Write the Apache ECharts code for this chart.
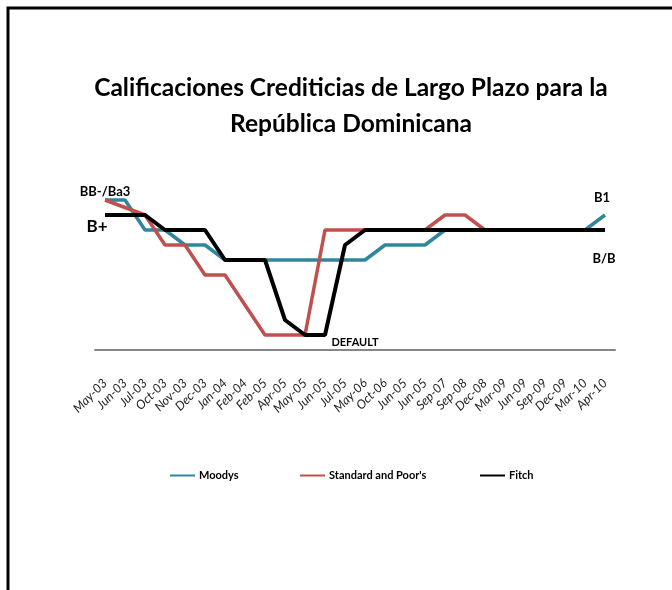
<!DOCTYPE html>
<html>
<head>
<meta charset="utf-8">
<script src="https://cdn.jsdelivr.net/npm/echarts@6/dist/echarts.min.js"></script>
<style>
html,body{margin:0;padding:0;background:#fff;}
#chart{width:672px;height:590px;}
</style>
</head>
<body>
<div id="chart"></div>
<script>
var categories = ['May-03','Jun-03','Jul-03','Oct-03','Nov-03','Dec-03','Jan-04','Feb-04','Feb-05','Apr-05','May-05','Jun-05','Jul-05','May-06','Oct-06','Jun-05','Jun-05','Sep-07','Sep-08','Dec-08','Mar-09','Jun-09','Sep-09','Dec-09','Mar-10','Apr-10'];
var moodys = [10,10,8,8,7,7,6,6,6,6,6,6,6,6,7,7,7,8,8,8,8,8,8,8,8,9];
var standardPoors = [10,9.5,9,7,7,5,5,3,1,1,1,8,8,8,8,8,8,9,9,8,8,8,8,8,8,8];
var fitch = [9,9,9,8,8,8,6,6,6,2,1,1,7,8,8,8,8,8,8,8,8,8,8,8,8,8];
var seriesNames = ['Moodys','Standard and Poor\'s','Fitch'];
var titleText = 'Calificaciones Crediticias de Largo Plazo para la\nRepública Dominicana';

var FONT = 'Lato, "Open Sans", sans-serif';
var legendLefts = [165, 295, 475];
var legends = seriesNames.map(function(n, i){
  return {
    left:legendLefts[i], top:465, itemGap:0, itemWidth:25, itemHeight:2, icon:'rect',
    textStyle:{fontFamily:FONT,fontSize:11,fontWeight:'bold',color:'#000',padding:[0,0,0,-1]},
    data:[n]
  };
});
var chart = echarts.init(document.getElementById('chart'), null, {renderer:'canvas'});
chart.setOption({
  animation:false,
  backgroundColor:'#fff',
  title:{
    text:titleText,
    left:346, top:65, textAlign:'center',
    textStyle:{fontFamily:FONT,fontSize:24.5,fontWeight:'bold',color:'#000',lineHeight:36}
  },
  legend:legends,
  grid:{left:95,right:57,top:185,bottom:240,containLabel:false},
  xAxis:{
    type:'category', data:categories, boundaryGap:true,
    axisLine:{lineStyle:{color:'#868686',width:2}},
    axisTick:{show:false},
    axisLabel:{rotate:45,margin:31,interval:0,fontFamily:FONT,fontStyle:'italic',fontSize:12.5,color:'#222'}
  },
  yAxis:{type:'value',min:0,max:11,show:false,splitLine:{show:false}},
  series:[
    {name:seriesNames[0],type:'line',data:moodys,symbol:'none',clip:false,
     lineStyle:{color:'#31859C',width:3.5},itemStyle:{color:'#31859C'}},
    {name:seriesNames[1],type:'line',data:standardPoors,symbol:'none',clip:false,
     lineStyle:{color:'#C0504D',width:3.5},itemStyle:{color:'#C0504D'}},
    {name:seriesNames[2],type:'line',data:fitch,symbol:'none',clip:false,
     lineStyle:{color:'#000',width:4},itemStyle:{color:'#000'}}
  ],
  graphic:[
    {type:'rect',shape:{x:8,y:8,width:700,height:620},style:{fill:null,stroke:'#000',lineWidth:3},silent:true},
    {type:'text',x:105,y:192,style:{text:'BB-/Ba3',font:'bold 13px '+FONT,fill:'#000',textAlign:'center',textVerticalAlign:'middle'}},
    {type:'text',x:97,y:227,style:{text:'B+',font:'bold 17px '+FONT,fill:'#000',textAlign:'center',textVerticalAlign:'middle'}},
    {type:'text',x:602,y:198,style:{text:'B1',font:'bold 13px '+FONT,fill:'#000',textAlign:'center',textVerticalAlign:'middle'}},
    {type:'text',x:604,y:259,style:{text:'B/B',font:'bold 13px '+FONT,fill:'#000',textAlign:'center',textVerticalAlign:'middle'}},
    {type:'text',x:355,y:342,style:{text:'DEFAULT',font:'bold 11px '+FONT,fill:'#000',textAlign:'center',textVerticalAlign:'middle'}}
  ]
});
</script>
</body>
</html>
